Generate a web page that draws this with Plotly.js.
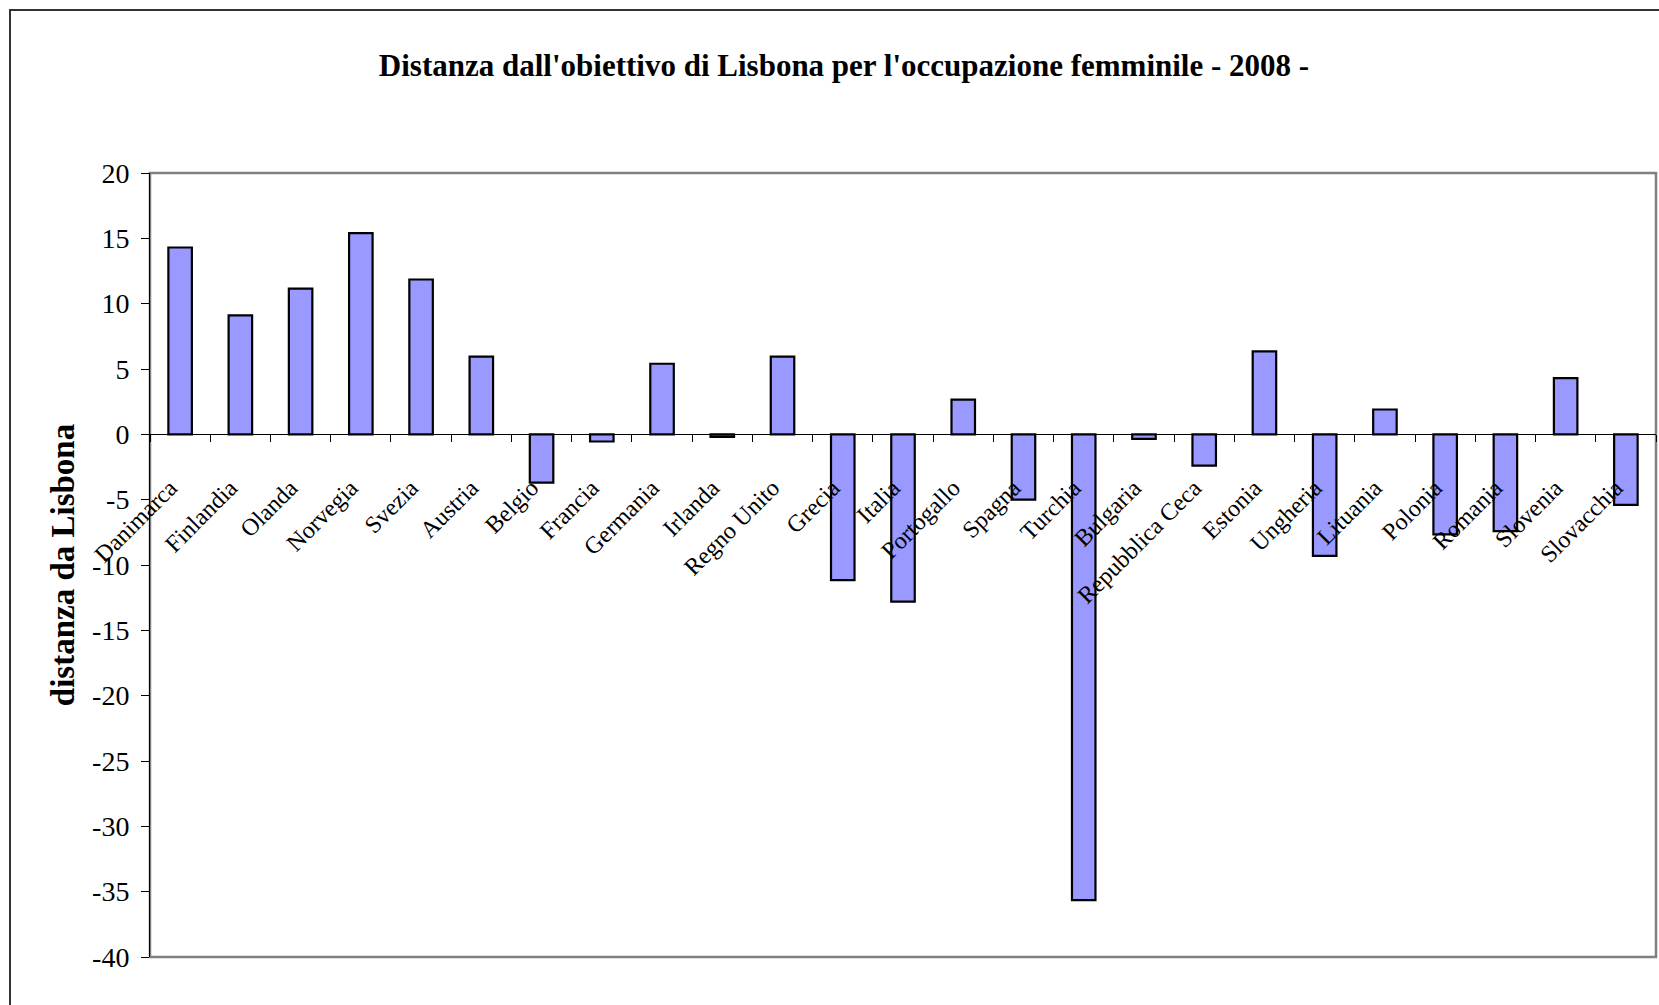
<!DOCTYPE html>
<html>
<head>
<meta charset="utf-8">
<script src="https://cdn.plot.ly/plotly-3.0.1.min.js"></script>
<style>html,body{margin:0;padding:0;background:#fff;}#chart{width:1659px;height:1005px;}</style>
</head>
<body>
<div id="chart"></div>
<script>
const paesi = ["Danimarca","Finlandia","Olanda","Norvegia","Svezia","Austria","Belgio","Francia","Germania","Irlanda","Regno Unito","Grecia","Italia","Portogallo","Spagna","Turchia","Bulgaria","Repubblica Ceca","Estonia","Ungheria","Lituania","Polonia","Romania","Slovenia","Slovacchia"];
const distanza = [14.3,9.1,11.15,15.4,11.85,5.95,-3.7,-0.55,5.4,-0.2,5.95,-11.15,-12.8,2.65,-5.0,-35.65,-0.35,-2.4,6.35,-9.3,1.9,-7.65,-7.4,4.3,-5.4];
const yTicks = [-40,-35,-30,-25,-20,-15,-10,-5,0,5,10,15,20];
const yRange = [-40, 20];

const serif = 'Liberation Serif, Times New Roman, Times, serif';
const W = 1659, H = 1005;
const m = {l:150, r:3, t:173, b:48};
const pw = W - m.l - m.r, ph = H - m.t - m.b;
const px = x => (x - m.l) / pw;
const py = y => (H - m.b - y) / ph;

const trace = {
  type: 'bar',
  x: paesi,
  y: distanza,
  marker: {color: '#9999FF', line: {color: '#000000', width: 2.2}},
  hoverinfo: 'x+y'
};

const layout = {
  width: W, height: H,
  margin: m,
  paper_bgcolor: '#ffffff',
  plot_bgcolor: '#ffffff',
  showlegend: false,
  bargap: 0.61,
  font: {family: serif, color: '#000000'},
  title: {
    text: "<b>Distanza dall'obiettivo di Lisbona per l'occupazione femminile - 2008 -</b>",
    font: {family: serif, size: 31, color: '#000000'},
    x: 844 / W, xref: 'container', xanchor: 'center',
    y: 1 - 65 / H, yref: 'container', yanchor: 'middle'
  },
  xaxis: {
    type: 'category',
    anchor: 'free',
    position: (0 - yRange[0]) / (yRange[1] - yRange[0]),
    showline: true, linecolor: '#000000', linewidth: 1,
    ticks: 'outside', ticklen: 7, tickcolor: '#000000', tickwidth: 1,
    tickson: 'boundaries',
    tickangle: -45,
    ticklabelstandoff: 29,
    ticklabelshift: -10,
    tickfont: {family: serif, size: 24, color: '#000000'},
    showgrid: false, zeroline: false
  },
  yaxis: {
    range: yRange,
    tickvals: yTicks,
    ticktext: yTicks.map(String),
    showline: true, linecolor: '#000000', linewidth: 1,
    ticks: 'outside', ticklen: 8, tickcolor: '#000000',
    ticklabelstandoff: 6,
    tickfont: {family: serif, size: 28, color: '#000000'},
    showgrid: false, zeroline: false,
    title: {text: '<b>distanza da Lisbona</b>', font: {family: serif, size: 33, color: '#000000'}, standoff: 7}
  },
  shapes: [
    {type: 'rect', xref: 'paper', yref: 'paper', x0: px(10), x1: px(1720), y0: py(1040), y1: py(10),
     line: {color: '#333333', width: 2}, fillcolor: 'rgba(0,0,0,0)', layer: 'below'},
    {type: 'rect', xref: 'paper', yref: 'paper', x0: 0, x1: 1, y0: 0, y1: 1,
     line: {color: '#808080', width: 2.5}, fillcolor: 'rgba(0,0,0,0)', layer: 'below'}
  ]
};

Plotly.newPlot('chart', [trace], layout, {displayModeBar: false, staticPlot: true});
</script>
</body>
</html>
